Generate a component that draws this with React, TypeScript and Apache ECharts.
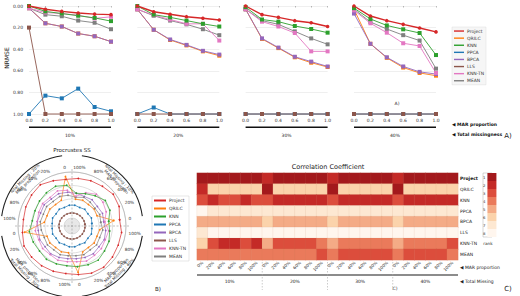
import React, { useEffect, useRef } from 'react';
import * as echarts from 'echarts';

const methods = ['Project', 'QRILC', 'KNN', 'PPCA', 'BPCA', 'LLS', 'KNN-TN', 'MEAN'];
const drawOrder = ['PPCA', 'LLS', 'QRILC', 'BPCA', 'MEAN', 'KNN-TN', 'KNN', 'Project'];
const methodColors: Record<string, string> = {
  Project: '#d62728', QRILC: '#ff7f0e', KNN: '#2ca02c', PPCA: '#1f77b4',
  BPCA: '#9467bd', LLS: '#8c564b', 'KNN-TN': '#e377c2', MEAN: '#7f7f7f',
};

const marProportion = [0, 0.2, 0.4, 0.6, 0.8, 1.0];
const totalMissing = ['10%', '20%', '30%', '40%'];
const marLabelsPolar = ['0', '20%', '40%', '60%', '80%', '100%'];
const marLabelsHeat = ['0%', '20%', '40%', '60%', '80%', '100%'];

// NRMSE per method: [group][marProportion]
const nrmseProject = [
  [0.0, 0.03, 0.05, 0.065, 0.075, 0.08],
  [0.0, 0.053, 0.077, 0.099, 0.114, 0.13],
  [0.0, 0.08, 0.105, 0.136, 0.155, 0.19],
  [0.0, 0.093, 0.136, 0.17, 0.204, 0.24],
];
const nrmseKNN = [
  [0.0, 0.05, 0.07, 0.09, 0.11, 0.14],
  [0.0, 0.08, 0.105, 0.135, 0.165, 0.19],
  [0.01, 0.125, 0.145, 0.185, 0.213, 0.247],
  [0.02, 0.12, 0.18, 0.216, 0.25, 0.454],
];
const nrmseMEAN = [
  [0.02, 0.08, 0.095, 0.135, 0.155, 0.215],
  [0.03, 0.09, 0.135, 0.17, 0.215, 0.27],
  [0.03, 0.135, 0.17, 0.235, 0.3, 0.355],
  [0.03, 0.148, 0.213, 0.27, 0.32, 0.58],
];
const nrmseKNNTN = [
  [0.02, 0.06, 0.07, 0.085, 0.115, 0.1],
  [0.03, 0.085, 0.125, 0.165, 0.165, 0.32],
  [0.03, 0.145, 0.19, 0.25, 0.42, 0.42],
  [0.04, 0.16, 0.247, 0.345, 0.37, 0.62],
];
const nrmseBPCA = [
  [0.02, 0.16, 0.19, 0.255, 0.28, 0.33],
  [0.03, 0.22, 0.31, 0.36, 0.415, 0.45],
  [0.03, 0.3, 0.385, 0.47, 0.515, 0.56],
  [0.07, 0.35, 0.475, 0.56, 0.61, 0.63],
];
const nrmseQRILC = [
  [0.02, 0.16, 0.19, 0.255, 0.28, 0.33],
  [0.03, 0.22, 0.315, 0.365, 0.42, 0.46],
  [0.03, 0.305, 0.39, 0.475, 0.525, 0.565],
  [0.03, 0.35, 0.48, 0.57, 0.62, 0.645],
];
const nrmsePPCA = [
  [1.0, 0.83, 0.855, 0.765, 0.935, 0.975],
  [1.0, 0.94, 1.0, 1.0, 1.0, 1.0],
  [1.0, 1.0, 1.0, 1.0, 1.0, 1.0],
  [1.0, 1.0, 1.0, 1.0, 1.0, 1.0],
];
const nrmseLLS = [
  [0.2, 1.0, 1.0, 1.0, 1.0, 1.0],
  [1.0, 1.0, 1.0, 1.0, 1.0, 1.0],
  [1.0, 1.0, 1.0, 1.0, 1.0, 1.0],
  [1.0, 1.0, 1.0, 1.0, 1.0, 1.0],
];
const nrmse: Record<string, number[][]> = {
  Project: nrmseProject, QRILC: nrmseQRILC, KNN: nrmseKNN, PPCA: nrmsePPCA,
  BPCA: nrmseBPCA, LLS: nrmseLLS, 'KNN-TN': nrmseKNNTN, MEAN: nrmseMEAN,
};

// Procrustes SS (ring radius level), 24 = 4 groups x 6 MAR proportions
const procProject = [48, 51, 52, 50, 49, 48, 47, 49, 52, 51, 50, 49, 50, 52, 51, 50, 49, 48, 49, 51, 52, 51, 50, 50];
const procKNN = [37, 41, 42, 38, 35, 33, 41, 43, 42, 41, 40, 40, 43, 42, 41, 42, 41, 40, 41, 42, 43, 41, 40, 38];
const procKNNTN = [33, 37, 39, 40, 36, 30, 36, 38, 36, 37, 36, 35, 37, 36, 37, 36, 37, 36, 36, 38, 37, 37, 36, 37];
const procBPCA = [32, 33, 32, 33, 32, 33, 34, 35, 34, 35, 34, 35, 34, 35, 34, 35, 34, 33, 33, 34, 35, 34, 35, 34];
const procMEAN = [29, 30, 29, 30, 31, 29, 31, 32, 31, 32, 31, 32, 31, 30, 31, 30, 31, 30, 30, 31, 30, 31, 30, 31];
const procQRILC = [42, 27, 28, 27, 28, 27, 50, 28, 27, 28, 27, 28, 48, 27, 28, 27, 28, 27, 47, 28, 27, 28, 27, 28];
const procPPCA = [20, 21, 20, 21, 20, 21, 21, 20, 21, 20, 21, 20, 20, 21, 20, 21, 20, 21, 21, 20, 21, 20, 21, 20];
const procLLS = [13, 13, 13, 13, 13, 13, 13, 13, 13, 13, 13, 13, 13, 13, 13, 13, 13, 13, 13, 13, 13, 13, 13, 13];
const procrustes: Record<string, number[]> = {
  Project: procProject, QRILC: procQRILC, KNN: procKNN, PPCA: procPPCA,
  BPCA: procBPCA, LLS: procLLS, 'KNN-TN': procKNNTN, MEAN: procMEAN,
};

// Correlation coefficient ranks
const rankProject = [1, 1, 1, 1, 1, 1, 2, 1, 1, 1, 1, 1, 2, 1, 1, 1, 1, 1, 2, 1, 1, 1, 1, 1];
const rankQRILC = [2, 6, 6, 6, 6, 6, 1, 6, 6, 6, 6, 6, 1, 6, 6, 6, 6, 6, 1, 6, 6, 6, 6, 6];
const rankKNN = [3, 2, 3, 3, 2, 3, 3, 2, 2, 2, 2, 2, 3, 2, 2, 2, 2, 2, 3, 2, 2, 2, 2, 2];
const rankPPCA = [8, 7, 7, 7, 7, 7, 7, 7, 7, 7, 7, 7, 7, 7, 7, 7, 7, 7, 7, 7, 7, 7, 7, 7];
const rankBPCA = [5, 5, 5, 5, 5, 5, 6, 5, 5, 5, 5, 5, 6, 5, 5, 5, 5, 5, 6, 5, 5, 5, 5, 5];
const rankLLS = [7, 8, 8, 8, 8, 8, 8, 8, 8, 8, 8, 8, 8, 8, 8, 8, 8, 8, 8, 8, 8, 8, 8, 8];
const rankKNNTN = [6, 3, 2, 2, 3, 2, 5, 3, 3, 3, 3, 4, 5, 4, 4, 4, 4, 4, 5, 4, 4, 4, 4, 3];
const rankMEAN = [4, 4, 4, 4, 4, 4, 4, 4, 4, 4, 4, 3, 4, 3, 3, 3, 3, 3, 4, 3, 3, 3, 3, 4];
const ranks = [rankProject, rankQRILC, rankKNN, rankPPCA, rankBPCA, rankLLS, rankKNNTN, rankMEAN];
const rankLevels = [1, 2, 3, 4, 5, 6, 7, 8];
const rankColors = ['#a3191c', '#c42a27', '#dc4d3c', '#ea7a5b', '#f4ab86', '#fbd3ab', '#fde8d2', '#fff6ee'];

const FONT = 'DejaVu Sans';

function buildOption() {
  const grids: any[] = [];
  const xAxes: any[] = [];
  const yAxes: any[] = [];
  const series: any[] = [];
  const graphics: any[] = [];
  const panelLeft = [29, 137.3, 245.6, 354];
  const panelW = 82;

  totalMissing.forEach((g, gi) => {
    grids.push({ left: panelLeft[gi], top: 6, width: panelW, height: 108 });
    xAxes.push({
      type: 'value', gridIndex: gi, min: 0, max: 1, interval: 0.2,
      axisLabel: { fontSize: 4.5, color: '#333', margin: 4, formatter: (v: number) => v.toFixed(1) },
      axisLine: { show: false },
      axisTick: { show: true, length: 1.5, lineStyle: { color: '#777', width: 0.5 } },
      splitLine: { show: false },
    });
    yAxes.push({
      type: 'value', gridIndex: gi, inverse: true, min: 0, max: 1, interval: 0.2,
      axisLabel: { show: gi === 0, fontSize: 4.5, color: '#333', margin: 6, formatter: (v: number) => v.toFixed(2) },
      axisLine: { show: false }, axisTick: { show: false },
      splitLine: { lineStyle: { color: '#e4e4e4', width: 0.6 } },
    });
    drawOrder.forEach((m) => {
      const isP = m === 'Project';
      series.push({
        type: 'line', name: m, xAxisIndex: gi, yAxisIndex: gi,
        data: marProportion.map((x, i) => [x, nrmse[m][gi][i]]),
        symbol: isP ? 'circle' : 'emptyRect', symbolSize: isP ? 3.6 : 2,
        lineStyle: { color: methodColors[m], width: isP ? 1.4 : 0.9 },
        itemStyle: { color: methodColors[m], borderWidth: 0.6 },
        clip: false, silent: true,
      });
    });
    graphics.push({ type: 'rect', shape: { x: panelLeft[gi], y: 126.5, width: panelW, height: 1.5 }, style: { fill: '#111' } });
    graphics.push({ type: 'text', x: panelLeft[gi] + panelW / 2, y: 135, style: { text: g, fontSize: 4.5, fill: '#222', align: 'center', verticalAlign: 'middle', fontFamily: FONT } });
  });

  // Polar (Procrustes SS)
  const cx = 72, cy = 226, R = 54;
  const angleLabels = totalMissing.flatMap(() => marLabelsPolar);
  drawOrder.forEach((m) => {
    const vals = procrustes[m];
    const data = vals.map((r, i) => [r, 7.5 + 15 * i]);
    data.push([vals[0], 367.5]);
    series.push({
      type: 'line', name: m, coordinateSystem: 'polar', polarIndex: 2,
      data, symbol: 'circle', symbolSize: 1.7,
      lineStyle: { color: methodColors[m], width: 0.7 },
      itemStyle: { color: methodColors[m] },
      clip: false, silent: true,
    });
  });

  // Heatmap
  const heatData: number[][] = [];
  ranks.forEach((row, ri) => row.forEach((v, ci) => heatData.push([ci, ri, v])));
  const heatSeriesIndex = series.length;
  series.push({
    type: 'heatmap', xAxisIndex: 4, yAxisIndex: 4, data: heatData,
    itemStyle: { borderColor: 'rgba(190,120,90,0.25)', borderWidth: 0.4 },
    emphasis: { disabled: true }, silent: true,
  });
  grids.push({ left: 197, top: 173, width: 261, height: 87 });
  xAxes.push({
    type: 'category', gridIndex: 4, data: totalMissing.flatMap(() => marLabelsHeat),
    axisLabel: { rotate: 45, fontSize: 4.2, color: '#333', interval: 0, margin: 2 },
    axisLine: { show: false }, axisTick: { show: false }, splitLine: { show: false },
  });
  yAxes.push({
    type: 'category', gridIndex: 4, data: methods, inverse: true, position: 'right',
    axisLabel: {
      fontSize: 4.5, color: '#222', margin: 2,
      formatter: (v: string) => (v === 'Project' ? '{b|Project}' : v),
      rich: { b: { fontSize: 4.5, fontWeight: 'bold', color: '#111', fontFamily: FONT } },
    },
    axisLine: { show: false }, axisTick: { show: false }, splitLine: { show: false },
  });

  // Polar decorations
  graphics.push({ type: 'line', z: 1, shape: { x1: cx - R - 3, y1: cy, x2: cx + R + 3, y2: cy }, style: { stroke: '#999', lineWidth: 0.6, lineDash: [2, 1.5] } });
  graphics.push({ type: 'line', z: 1, shape: { x1: cx, y1: cy - R - 3, x2: cx, y2: cy + R + 3 }, style: { stroke: '#999', lineWidth: 0.6, lineDash: [2, 1.5] } });
  graphics.push({ type: 'text', x: cx, y: 150, style: { text: 'Procrustes SS', fontSize: 5.5, fill: '#222', align: 'center', verticalAlign: 'middle', fontFamily: FONT } });
  totalMissing.forEach((g, q) => {
    const a0 = (90 * q + 8) * Math.PI / 180;
    const a1 = (90 * q + 82) * Math.PI / 180;
    graphics.push({
      type: 'arc', shape: { cx, cy, r: 71, startAngle: -a1, endAngle: -a0, clockwise: true },
      style: { stroke: '#222', lineWidth: 1.1, fill: null },
    });
    const th = 45 + 90 * q;
    const rot = (q < 2 ? th - 90 : th - 270) * Math.PI / 180;
    const t = th * Math.PI / 180;
    const lines: [string, number][] = [['MAR proportion', 62.5], ['Total Missing : ' + g, 67]];
    lines.forEach(([txt, r]) => {
      graphics.push({
        type: 'text', x: cx + r * Math.cos(t), y: cy - r * Math.sin(t), rotation: rot,
        style: { text: txt, fontSize: 4.2, fill: '#333', align: 'center', verticalAlign: 'middle', fontFamily: FONT },
      });
    });
  });
  graphics.push({ type: 'text', x: 158, y: 289, style: { text: 'B)', fontSize: 5.5, fill: '#222', align: 'center', verticalAlign: 'middle', fontFamily: FONT } });

  // Top annotations
  graphics.push({ type: 'text', x: 6, y: 58, rotation: Math.PI / 2, style: { text: 'NRMSE', fontSize: 6, fill: '#222', align: 'center', verticalAlign: 'middle', fontFamily: FONT } });
  graphics.push({ type: 'text', x: 397, y: 103, style: { text: 'A)', fontSize: 4.5, fill: '#333', align: 'center', verticalAlign: 'middle', fontFamily: FONT } });
  graphics.push({ type: 'text', x: 452, y: 124, style: { text: '◀ MAR proportion', fontSize: 4.5, fontWeight: 'bold', fill: '#111', align: 'left', verticalAlign: 'middle', fontFamily: FONT } });
  graphics.push({ type: 'text', x: 452, y: 134, style: { text: '◀ Total missingness', fontSize: 4.5, fontWeight: 'bold', fill: '#111', align: 'left', verticalAlign: 'middle', fontFamily: FONT } });
  graphics.push({ type: 'text', x: 508, y: 136, style: { text: 'A)', fontSize: 7, fill: '#222', align: 'center', verticalAlign: 'middle', fontFamily: FONT } });

  // Heatmap annotations
  graphics.push({ type: 'text', x: 328, y: 167, style: { text: 'Correlation Coefficient', fontSize: 6.5, fill: '#222', align: 'center', verticalAlign: 'middle', fontFamily: FONT } });
  graphics.push({ type: 'rect', shape: { x: 483, y: 173, width: 9, height: 64 }, style: { fill: null, stroke: '#999', lineWidth: 0.4 } });
  graphics.push({ type: 'text', x: 488, y: 243, style: { text: 'rank', fontSize: 4.2, fill: '#333', align: 'center', verticalAlign: 'middle', fontFamily: FONT } });
  graphics.push({ type: 'line', shape: { x1: 197, y1: 275, x2: 458, y2: 275 }, style: { stroke: '#666', lineWidth: 1.5 } });
  [1, 2, 3].forEach((k) => {
    const x = 197 + (261 / 4) * k;
    graphics.push({ type: 'line', shape: { x1: x, y1: 262, x2: x, y2: 290 }, style: { stroke: '#aaa', lineWidth: 0.6, lineDash: [1.5, 1.5] } });
  });
  totalMissing.forEach((g, k) => {
    graphics.push({ type: 'text', x: 197 + (261 / 4) * (k + 0.5), y: 281, style: { text: g, fontSize: 4.5, fill: '#222', align: 'center', verticalAlign: 'middle', fontFamily: FONT } });
  });
  graphics.push({ type: 'text', x: 460, y: 267, style: { text: '◀ MAR proportion', fontSize: 4.5, fill: '#222', align: 'left', verticalAlign: 'middle', fontFamily: FONT } });
  graphics.push({ type: 'text', x: 460, y: 281, style: { text: '◀ Total Missing', fontSize: 4.5, fill: '#222', align: 'left', verticalAlign: 'middle', fontFamily: FONT } });
  graphics.push({ type: 'text', x: 395, y: 288, style: { text: 'C)', fontSize: 4.5, fill: '#333', align: 'center', verticalAlign: 'middle', fontFamily: FONT } });
  graphics.push({ type: 'text', x: 508, y: 289, style: { text: 'C)', fontSize: 7, fill: '#222', align: 'center', verticalAlign: 'middle', fontFamily: FONT } });

  return {
    animation: false,
    backgroundColor: '#fff',
    textStyle: { fontFamily: FONT },
    grid: grids,
    xAxis: xAxes,
    yAxis: yAxes,
    polar: [
      { center: [cx, cy], radius: R },
      { center: [cx, cy], radius: 8 },
      { center: [cx, cy], radius: R },
    ],
    angleAxis: [
      {
        polarIndex: 0, type: 'category', data: angleLabels, startAngle: 0, clockwise: false, boundaryGap: true,
        axisLine: { lineStyle: { color: '#aaa', width: 0.6 } },
        axisTick: { show: false },
        axisLabel: { fontSize: 4.3, color: '#333', margin: 3, interval: 0 },
        splitLine: { show: false },
      },
      {
        polarIndex: 1, type: 'category', data: Array.from({ length: 32 }, () => ''), startAngle: 0, boundaryGap: true,
        axisLine: { lineStyle: { color: '#bbb', width: 0.4 } },
        axisTick: { show: false }, axisLabel: { show: false },
        splitLine: { show: true, lineStyle: { color: '#b5b5b5', width: 0.4 } },
        splitArea: { show: true, areaStyle: { color: ['#e8e8e8', '#e8e8e8'] } },
      },
      { polarIndex: 2, type: 'value', min: 0, max: 360, startAngle: 0, clockwise: false, show: false },
    ],
    radiusAxis: [
      {
        polarIndex: 0, type: 'value', min: 0, max: R, interval: R / 4,
        axisLine: { show: false }, axisTick: { show: false }, axisLabel: { show: false },
        splitLine: { show: true, lineStyle: { color: '#bdbdbd', width: 0.5 } },
      },
      { polarIndex: 1, type: 'value', min: 0, max: 1, show: false },
      { polarIndex: 2, type: 'value', min: 0, max: R, show: false },
    ],
    legend: [
      {
        data: methods, orient: 'vertical', left: 452, top: 27, icon: 'rect', itemWidth: 10, itemHeight: 1.4, itemGap: 2,
        selectedMode: false, textStyle: { fontSize: 4.5, color: '#333', lineHeight: 5.1, padding: [0, 0, 0, -2] },
        backgroundColor: 'rgba(246,246,246,0.95)', borderColor: '#ddd', borderWidth: 0.5, padding: [1.5, 2, 1.5, 2],
      },
      {
        data: methods, orient: 'vertical', left: 152, top: 196, icon: 'rect', itemWidth: 12, itemHeight: 2, itemGap: 3,
        selectedMode: false, textStyle: { fontSize: 4.5, color: '#333', lineHeight: 5, padding: [0, 0, 0, -2] },
        backgroundColor: '#fff', borderColor: '#ccc', borderWidth: 0.5, padding: [2, 3, 2, 2],
      },
    ],
    visualMap: {
      type: 'piecewise', seriesIndex: heatSeriesIndex, inverse: true,
      pieces: rankLevels.map((r, i) => ({ value: r, label: String(r), color: rankColors[i] })),
      orient: 'vertical', left: 483, top: 173, itemWidth: 9, itemHeight: 8, itemGap: 0, textGap: 2,
      itemSymbol: 'rect', selectedMode: false, padding: 0, showLabel: true,
      textStyle: { fontSize: 3.8, color: '#333' },
    },
    series,
    graphic: graphics,
  };
}

export default function App() {
  const ref = useRef<HTMLDivElement>(null);
  useEffect(() => {
    if (!ref.current) return;
    const chart = echarts.init(ref.current, undefined, { renderer: 'svg' });
    chart.setOption(buildOption() as any);
    return () => chart.dispose();
  }, []);
  return <div ref={ref} style={{ position: 'fixed', left: 0, top: 0, width: 520, height: 296, background: '#fff' }} />;
}
